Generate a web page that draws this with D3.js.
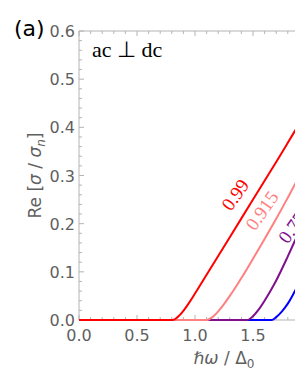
<!DOCTYPE html>
<html>
<head>
<meta charset="utf-8">
<script src="https://cdn.jsdelivr.net/npm/d3@7"></script>
<style>
  body { margin: 0; background: #fff; }
  svg { display: block; }
</style>
</head>
<body>
<div id="chart"></div>
<script>
// curves: x = hbar omega / Delta0, y = Re[sigma/sigma_n]
var seriesColors = ['#0000ff', '#7f0f8a', '#ff8080', '#ff0000'];

var blueX = [0, 1.66, 1.7, 1.75, 1.8, 1.85, 1.9, 2.0];
var blueY = [0, 0, 0.006, 0.018, 0.034, 0.055, 0.078, 0.125];

var purpleX = [0, 1.45, 1.5, 1.55, 1.6, 1.65, 1.7, 1.8, 1.9, 2.0];
var purpleY = [0, 0, 0.008, 0.022, 0.04, 0.06, 0.082, 0.132, 0.185, 0.238];

var pinkX = [0, 1.1, 1.15, 1.2, 1.25, 1.3, 1.35, 1.4, 1.5, 1.6, 1.7, 1.8, 1.9, 2.0];
var pinkY = [0, 0, 0.006, 0.018, 0.033, 0.05, 0.068, 0.087, 0.127, 0.168, 0.21, 0.254, 0.299, 0.345];

var redX = [0, 0.81, 0.85, 0.9, 0.95, 1.0, 1.1, 1.2, 1.3, 1.4, 1.5, 1.6, 1.7, 1.8, 1.9, 2.0];
var redY = [0, 0, 0.006, 0.019, 0.036, 0.055, 0.094, 0.133, 0.172, 0.211, 0.25, 0.289, 0.328, 0.368, 0.408, 0.447];

// curve labels (text, data position)
var labelText = ['0.99', '0.915', '0.75'];
var labelX = [1.31, 1.517, 1.80];
var labelY = [0.224, 0.183, 0.156];
var labelColors = ['#ff0000', '#ff8080', '#7f0f8a'];

var xTicks = [0, 0.5, 1.0, 1.5, 2.0, 2.5];
var yTicks = [0, 0.1, 0.2, 0.3, 0.4, 0.5, 0.6];

var W = 295, H = 382;
var margin = {left: 79, top: 31, bottom: 62};
var plotW = 290, plotH = H - margin.top - margin.bottom;

var svg = d3.select('#chart').append('svg')
            .attr('width', W)
            .attr('height', H);

var x = d3.scaleLinear().domain([0, 2.5]).range([margin.left, margin.left + plotW]);
var y = d3.scaleLinear().domain([0, 0.6]).range([margin.top + plotH, margin.top]);

var axisColor = '#b4b4b4';
var textColor = '#5f5f5f';

//frame
var frame = svg.append('g').attr('id', 'frame');
frame.append('line')
     .attr('x1', x(0)).attr('x2', x(0))
     .attr('y1', y(0)).attr('y2', y(0.6))
     .attr('stroke', axisColor);
frame.append('line')
     .attr('x1', x(0)).attr('x2', x(2.5))
     .attr('y1', y(0.6)).attr('y2', y(0.6))
     .attr('stroke', axisColor);
frame.append('line')
     .attr('x1', x(0)).attr('x2', x(2.5))
     .attr('y1', y(0)).attr('y2', y(0))
     .attr('stroke', axisColor);

//ticks: major + minor, pointing inside
var xMinor = d3.range(0, 2.501, 0.1);
var yMinor = d3.range(0, 0.601, 0.02);
var isMajorX = function(v){ return Math.abs(v*2 - Math.round(v*2)) < 1e-6; };
var isMajorY = function(v){ return Math.abs(v*10 - Math.round(v*10)) < 1e-6; };

frame.selectAll('line.xb').data(xMinor).enter()
     .append('line').attr('class', 'xb')
     .attr('x1', function(d){ return x(d); })
     .attr('x2', function(d){ return x(d); })
     .attr('y1', y(0))
     .attr('y2', function(d){ return y(0) - (isMajorX(d) ? 5 : 3); })
     .attr('stroke', axisColor);

frame.selectAll('line.xt').data(xMinor).enter()
     .append('line').attr('class', 'xt')
     .attr('x1', function(d){ return x(d); })
     .attr('x2', function(d){ return x(d); })
     .attr('y1', y(0.6))
     .attr('y2', function(d){ return y(0.6) + (isMajorX(d) ? 5 : 3); })
     .attr('stroke', axisColor);

frame.selectAll('line.yl').data(yMinor).enter()
     .append('line').attr('class', 'yl')
     .attr('x1', x(0))
     .attr('x2', function(d){ return x(0) + (isMajorY(d) ? 5 : 3); })
     .attr('y1', function(d){ return y(d); })
     .attr('y2', function(d){ return y(d); })
     .attr('stroke', axisColor);

//tick labels (only the ones that land inside the window)
svg.selectAll('text.xl').data(xTicks.filter(function(d){ return x(d) + 12 < W; })).enter()
   .append('text').attr('class', 'xl')
   .attr('x', function(d){ return x(d); })
   .attr('y', y(0) + 21)
   .attr('text-anchor', 'middle')
   .attr('font-family', 'DejaVu Sans')
   .attr('font-size', 16)
   .attr('fill', textColor)
   .text(function(d){ return d3.format('.1f')(d); });

svg.selectAll('text.yl').data(yTicks).enter()
   .append('text').attr('class', 'yl')
   .attr('x', x(0) - 4)
   .attr('y', function(d){ return y(d) + 6; })
   .attr('text-anchor', 'end')
   .attr('font-family', 'DejaVu Sans')
   .attr('font-size', 16)
   .attr('fill', textColor)
   .text(function(d){ return d3.format('.1f')(d); });

//curves
var curveData = [
  {x: blueX, y: blueY},
  {x: purpleX, y: purpleY},
  {x: pinkX, y: pinkY},
  {x: redX, y: redY}
];

svg.append('clipPath').attr('id', 'plotclip')
   .append('rect')
   .attr('x', x(0)).attr('y', y(0.6) - 2)
   .attr('width', plotW).attr('height', plotH + 4);

var line = d3.line()
             .x(function(d){ return x(d[0]); })
             .y(function(d){ return y(d[1]); })
             .curve(d3.curveMonotoneX);

svg.append('g').attr('clip-path', 'url(#plotclip)')
   .selectAll('path').data(curveData).enter()
   .append('path')
   .attr('d', function(d){ return line(d3.zip(d.x, d.y)); })
   .attr('fill', 'none')
   .attr('stroke', function(d,i){ return seriesColors[i]; })
   .attr('stroke-width', 2);

//curve labels
svg.selectAll('text.cl').data(labelText).enter()
   .append('text').attr('class', 'cl')
   .attr('transform', function(d,i){
     return 'translate(' + x(labelX[i]) + ',' + y(labelY[i]) + ') rotate(-55)';
   })
   .attr('font-family', 'Liberation Serif')
   .attr('font-size', 19)
   .attr('fill', function(d,i){ return labelColors[i]; })
   .text(function(d){ return d; });

//panel letter and annotation
svg.append('text')
   .attr('x', 14).attr('y', 36)
   .attr('font-family', 'DejaVu Sans')
   .attr('font-size', 22)
   .attr('fill', '#000')
   .text('(a)');

svg.append('text')
   .attr('x', 92).attr('y', 57)
   .attr('font-family', 'Liberation Serif')
   .attr('font-size', 22)
   .attr('fill', '#000')
   .text('ac \u22A5 dc');

//axis titles
var yt = svg.append('text')
   .attr('transform', 'translate(41,' + (margin.top + plotH/2) + ') rotate(-90)')
   .attr('text-anchor', 'middle')
   .attr('font-family', 'DejaVu Sans')
   .attr('font-size', 17)
   .attr('fill', textColor);
yt.append('tspan').text('Re [');
yt.append('tspan').attr('font-style', 'italic').text('\u03C3');
yt.append('tspan').text(' / ');
yt.append('tspan').attr('font-style', 'italic').text('\u03C3');
yt.append('tspan').attr('font-style', 'italic').attr('font-size', 12).attr('dy', 4).text('n');
yt.append('tspan').attr('dy', -4).text(']');

var xt = svg.append('text')
   .attr('x', margin.left + plotW/2)
   .attr('y', 364)
   .attr('text-anchor', 'middle')
   .attr('font-family', 'DejaVu Sans')
   .attr('font-size', 17)
   .attr('fill', textColor);
xt.append('tspan').attr('font-style', 'italic').text('\u210F\u03C9');
xt.append('tspan').text(' / \u0394');
xt.append('tspan').attr('font-size', 12).attr('dy', 4).text('0');
</script>
</body>
</html>
